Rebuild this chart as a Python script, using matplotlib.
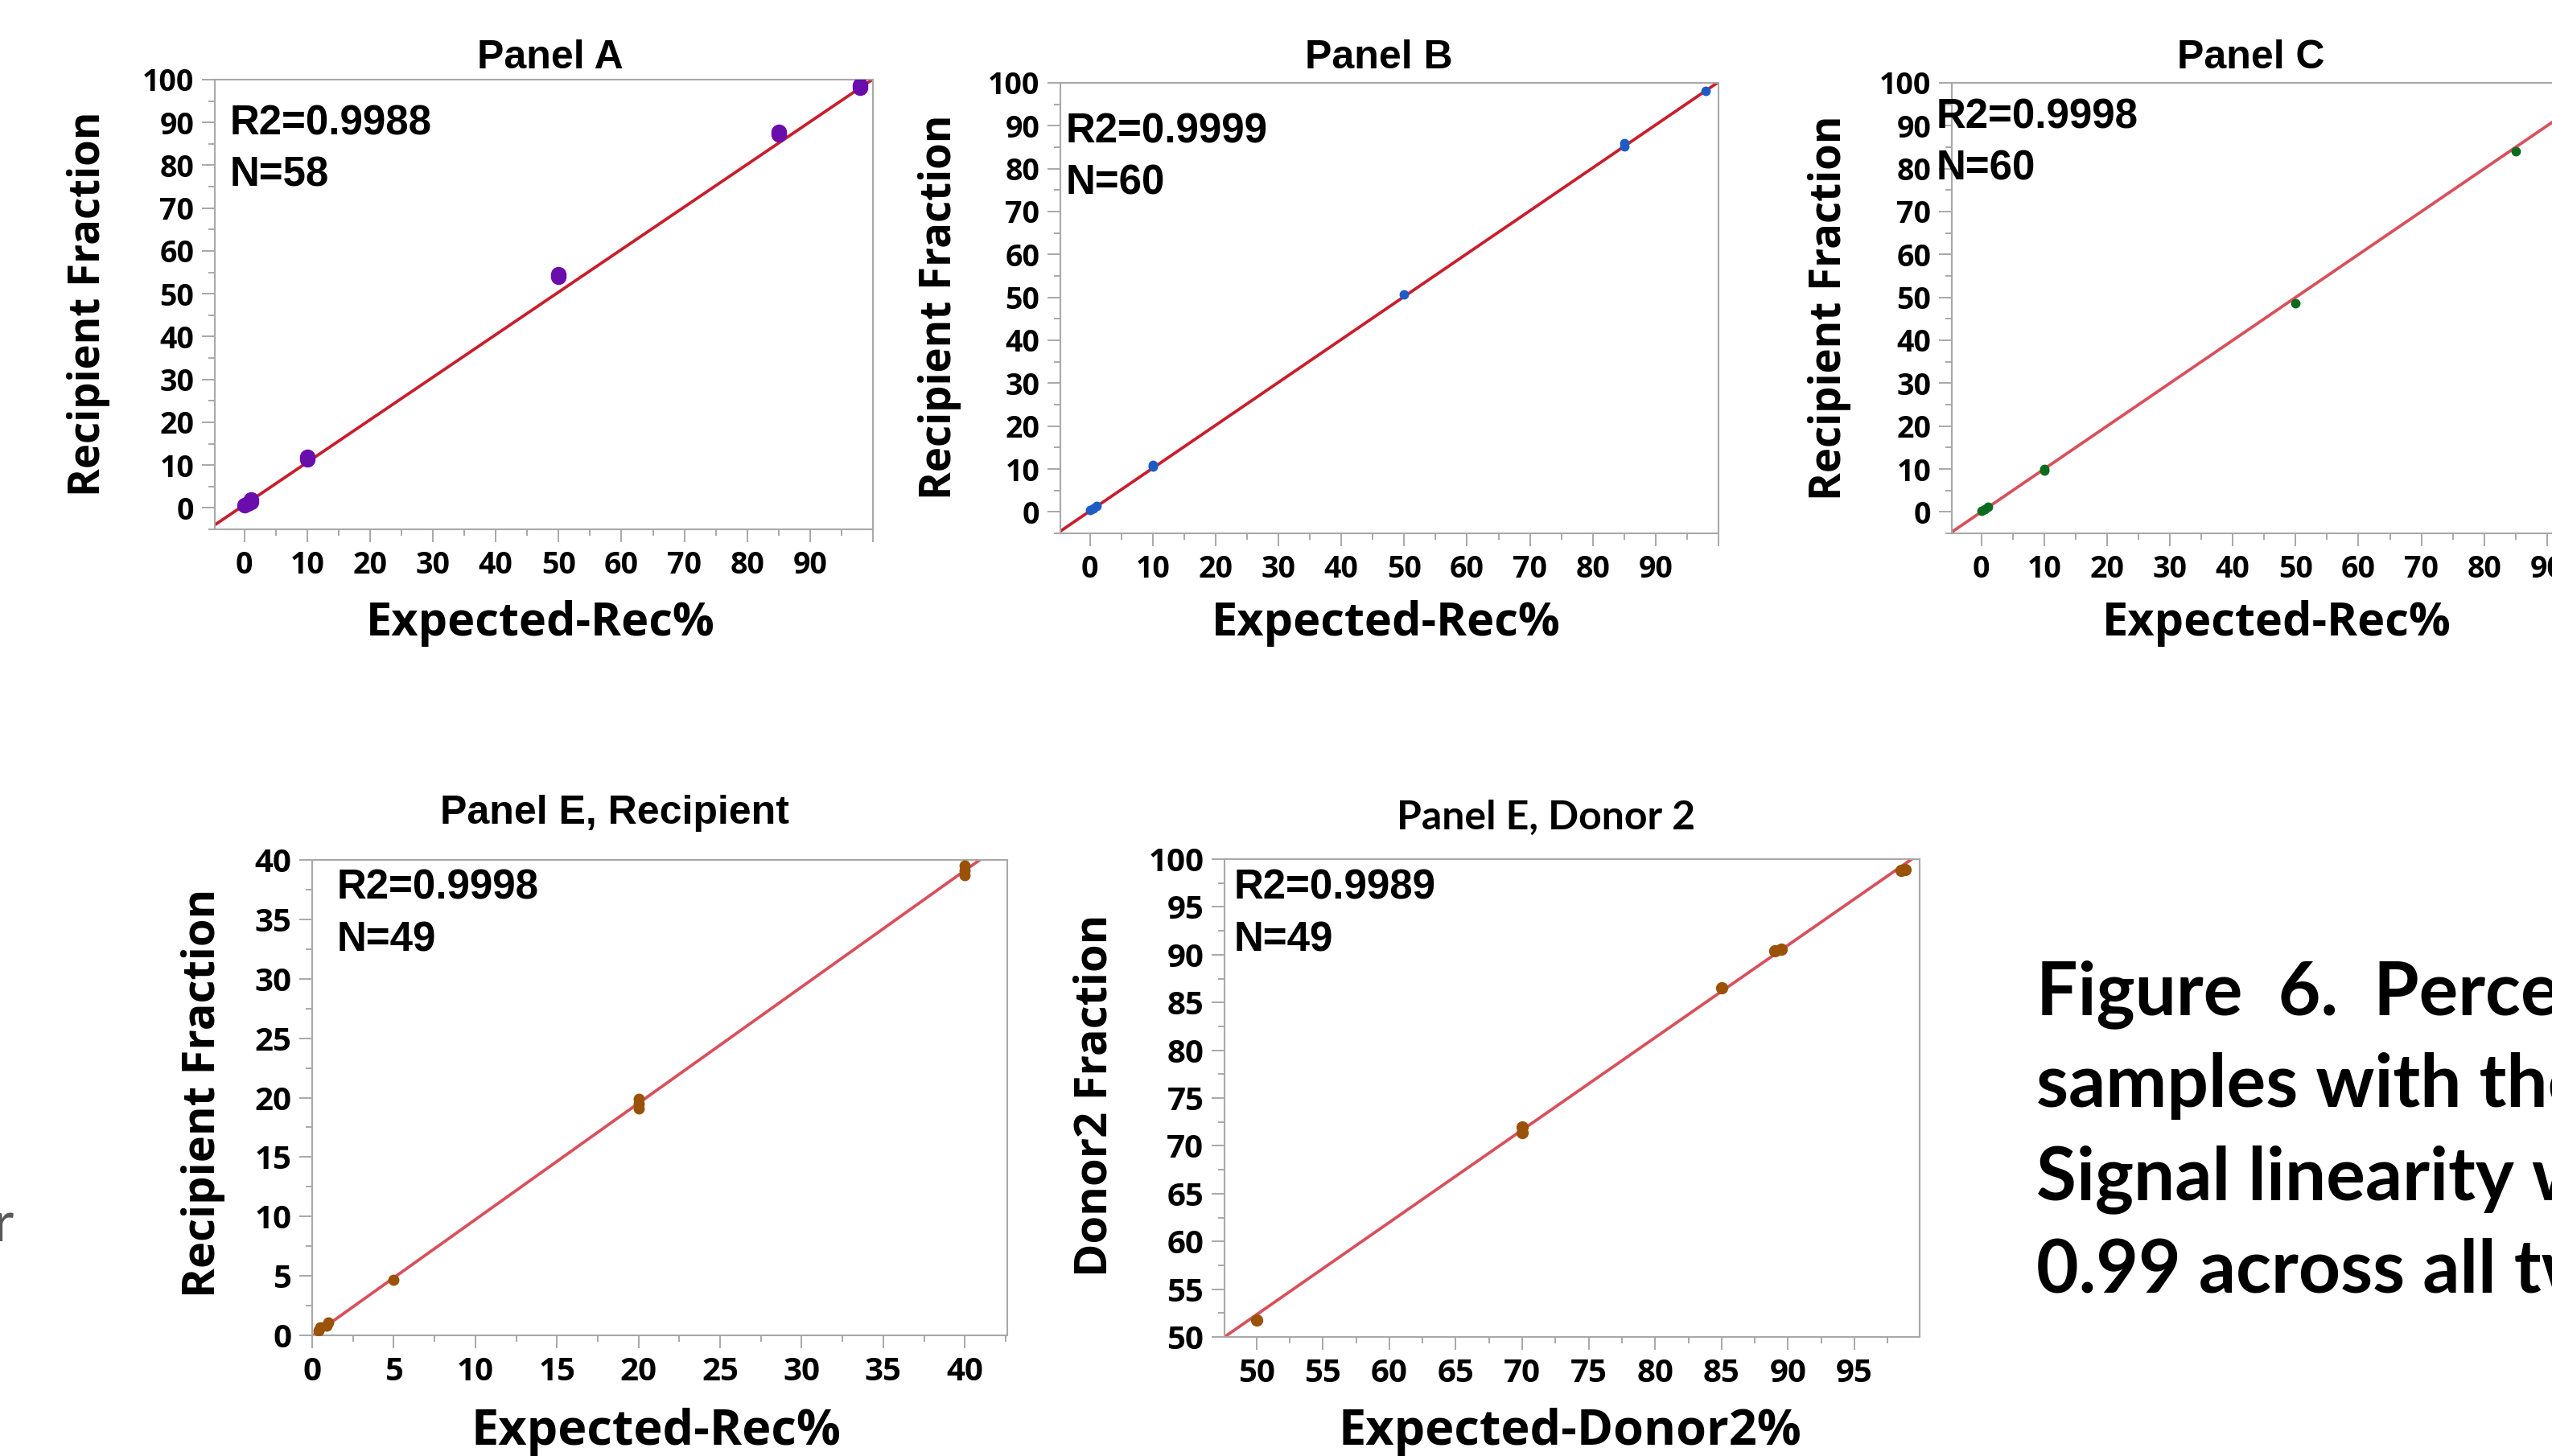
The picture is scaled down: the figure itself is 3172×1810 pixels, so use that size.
import numpy as np
import matplotlib
matplotlib.use("Agg")
import matplotlib.pyplot as plt
from matplotlib.ticker import MultipleLocator, FuncFormatter

W, H = 3172, 1810

# ── data ─────────────────────────────────────────────────────────────
A_X = [0, 0.5, 1, 1, 10, 10, 50, 50, 85, 85, 98, 98]
A_Y = [0.6, 1.0, 1.4, 1.9, 11.3, 11.9, 54.0, 54.6, 87.3, 87.8, 98.1, 98.6]
A_FIT = (0.7, 0.994)

B_X = [0, 0.5, 1, 10, 10, 50, 85, 85, 98]
B_Y = [0.5, 0.9, 1.3, 10.6, 11.0, 50.6, 85.2, 86.0, 98.2]
B_FIT = (0.2, 1.0)

C_X = [0, 0.5, 1, 10, 10, 50, 85]
C_Y = [0.3, 0.7, 1.1, 9.7, 10.0, 48.6, 84.1]
C_FIT = (0.0, 1.0)

ER_X = [0.4, 0.5, 0.9, 1.0, 5, 20, 20, 20, 40, 40, 40]
ER_Y = [0.4, 0.7, 0.8, 1.1, 4.7, 19.1, 19.5, 19.9, 38.7, 39.1, 39.5]
ER_FIT = (-0.05, 0.979)

ED_X = [50, 70, 70, 85, 89, 89.5, 98.5, 98.8]
ED_Y = [51.8, 71.4, 72.0, 86.5, 90.4, 90.6, 98.8, 98.9]
ED_FIT = (3.97, 0.967)

TITLES = ["Panel A", "Panel B", "Panel C", "Panel E, Recipient", "Panel E, Donor 2"]
STATS = [("R2=0.9988", "N=58"), ("R2=0.9999", "N=60"), ("R2=0.9998", "N=60"),
         ("R2=0.9998", "N=49"), ("R2=0.9989", "N=49")]
YLABELS = ["Recipient Fraction"] * 4 + ["Donor2 Fraction"]
XLABELS = ["Expected-Rec%"] * 4 + ["Expected-Donor2%"]
CAPTION = ["Figure  6.  Percent", "samples with the", "Signal linearity was", "0.99 across all two"]

GRAY = "#a8a8a8"

plt.rcParams["font.family"] = ["Open Sans", "DejaVu Sans"]
plt.rcParams["font.weight"] = "bold"

fig = plt.figure(figsize=(W / 100, H / 100), dpi=100)


def put(x, y, s, **kw):
    """Place text at pixel coordinates (origin top-left)."""
    return fig.text(x / W, 1 - y / H, s, **kw)


def x_fmt(v, _):
    # JMP leaves the tick at 100 unlabelled on the x axis
    return "" if v >= 100 or v < 0 else f"{v:g}"


def y_fmt(v, _):
    return "" if v < 0 else f"{v:g}"


def draw_panel(i, x, y, fit, box, lims, steps, color, line_color, ms, tick_pt,
               title_xy, title_font, stat_xy, ylab_xy, xlab_xy, lab_pt):
    left, top, right, bottom = box
    ax = fig.add_axes([left / W, 1 - bottom / H, (right - left) / W, (bottom - top) / H])
    xlim, ylim = lims
    xx = np.array(xlim)
    ax.plot(xx, fit[0] + fit[1] * xx, color=line_color, lw=2.7, zorder=2)
    ax.plot(x, y, "o", color=color, mec=color, ms=ms, zorder=3)
    ax.set_xlim(xlim)
    ax.set_ylim(ylim)
    ax.xaxis.set_major_locator(MultipleLocator(steps[0]))
    ax.xaxis.set_minor_locator(MultipleLocator(steps[0] / 2))
    ax.yaxis.set_major_locator(MultipleLocator(steps[1]))
    ax.yaxis.set_minor_locator(MultipleLocator(steps[1] / 2))
    ax.xaxis.set_major_formatter(FuncFormatter(x_fmt))
    ax.yaxis.set_major_formatter(FuncFormatter(y_fmt))
    for s in ax.spines.values():
        s.set_color(GRAY)
        s.set_linewidth(1.5)
    ax.tick_params(which="major", length=11.5, width=1.4, color=GRAY,
                   labelsize=tick_pt, pad=7)
    ax.tick_params(which="minor", length=5.8, width=1.4, color=GRAY)

    put(*title_xy, TITLES[i], ha="center", va="baseline", fontsize=36,
        family=title_font, weight="bold")
    put(stat_xy[0], stat_xy[1], STATS[i][0], ha="left", va="baseline",
        fontsize=36.7, family="Liberation Sans", weight="bold")
    put(stat_xy[0], stat_xy[1] + 64, STATS[i][1], ha="left", va="baseline",
        fontsize=36.7, family="Liberation Sans", weight="bold")
    put(*ylab_xy, YLABELS[i], rotation=90, ha="center", va="center",
        fontsize=lab_pt[0])
    put(*xlab_xy, XLABELS[i], ha="center", va="center", fontsize=lab_pt[1])
    return ax


top_lims = ((-4.7, 100), (-5, 100))
draw_panel(0, A_X, A_Y, A_FIT, (267, 99, 1085, 658), top_lims, (10, 10),
           "#6a0dad", "#c81e2c", 13, 27, (684, 85), "Liberation Sans",
           (286, 168), (110, 378), (672, 775), (38, 41.5))
draw_panel(1, B_X, B_Y, B_FIT, (1318, 103, 2136, 663), top_lims, (10, 10),
           "#1e5bc6", "#c81e2c", 7.5, 27, (1714, 85), "Liberation Sans",
           (1325, 178), (1168, 382), (1723, 775), (38, 41.5))
draw_panel(2, C_X, C_Y, C_FIT, (2426, 103, 3244, 663), top_lims, (10, 10),
           "#0b6b1f", "#d8505c", 7.5, 27, (2798, 85), "Liberation Sans",
           (2407, 160), (2274, 383), (2830, 775), (38, 41.5))
draw_panel(3, ER_X, ER_Y, ER_FIT, (388, 1069, 1252, 1660), ((0, 42.6), (0, 40)), (5, 5),
           "#9a5208", "#d8505c", 9, 29, (764, 1024), "Liberation Sans",
           (419, 1118), (252, 1359), (815, 1780), (40.4, 44))
draw_panel(4, ED_X, ED_Y, ED_FIT, (1522, 1068, 2386, 1662), ((47.6, 99.9), (50, 100)), (5, 5),
           "#9a5208", "#d8505c", 10, 29, (1922, 1031), "Lato",
           (1534, 1118), (1361, 1362), (1951, 1780), (40.4, 44))

# caption on the right, cut off by the page edge
for k, line in enumerate(CAPTION):
    put(2531, 1261 + k * 115, line, ha="left", va="baseline", fontsize=65.5,
        family="Lato", weight="bold", color="black")

# tail of a word from the neighbouring column
put(16, 1543, "r", ha="right", va="baseline", fontsize=50, family="Lato",
    weight="normal", color="#595959")

fig.savefig("out.png", dpi=100)
